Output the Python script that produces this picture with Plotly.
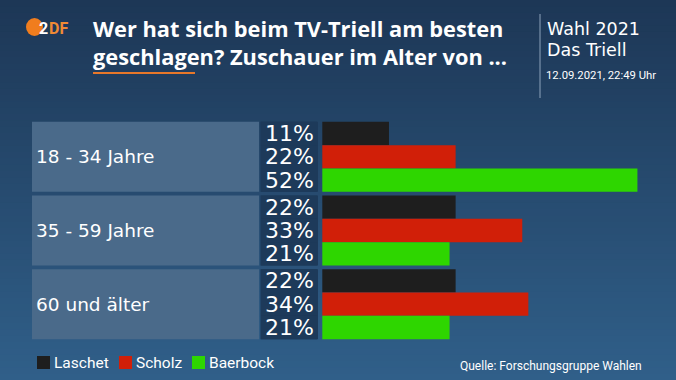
import plotly.graph_objects as go

# ---------------- data ----------------
groups = ["18 - 34 Jahre", "35 - 59 Jahre", "60 und älter"]
series_names = ["Laschet", "Scholz", "Baerbock"]
laschet = [11, 22, 22]
scholz = [22, 33, 34]
baerbock = [52, 21, 21]
series_values = [laschet, scholz, baerbock]
series_colors = ["#1e1e1e", "#d11f08", "#2ed600"]

title_lines = ["Wer hat sich beim TV-Triell am besten",
               "geschlagen? Zuschauer im Alter von ..."]
side_lines = ["Wahl 2021", "Das Triell"]
date_text = "12.09.2021, 22:49 Uhr"
source_text = "Quelle: Forschungsgruppe Wahlen"

# ---------------- geometry (pixels) ----------------
W, H = 676, 380
PX_PER_PCT = 6.06
ZERO_PX = 322.3
x_min = -ZERO_PX / PX_PER_PCT
x_max = (W - ZERO_PX) / PX_PER_PCT
PLOT_TOP, PLOT_BOTTOM = 120, 341


def px2x(p):
    return (p - ZERO_PX) / PX_PER_PCT


def px(p):
    return p / W


def py(p):
    return 1 - p / H


BOX_DARK = "#1d3a5a"
BOX_GRAY = "#4a6a8a"

fig = go.Figure()

for name, vals, col in zip(series_names, series_values, series_colors):
    # percent label cell (dark box with the value text), same slot as the bar
    fig.add_trace(go.Bar(
        y=groups, x=[px2x(317) - px2x(260.7)] * len(vals), base=px2x(260.7),
        orientation="h", offsetgroup=name,
        marker=dict(color=BOX_DARK, line=dict(width=0)),
        text=[f"{v}%" for v in vals], textposition="inside",
        insidetextanchor="end", constraintext="none",
        textfont=dict(family="DejaVu Sans", size=22, color="white"),
        showlegend=False, hoverinfo="skip",
    ))
    fig.add_trace(go.Bar(
        y=groups, x=vals, orientation="h", offsetgroup=name, name=name,
        marker=dict(color=col, line=dict(width=0)),
        showlegend=False,
    ))

shapes = []
# background gradient
top_rgb = (0x1d, 0x37, 0x56)
bot_rgb = (0x30, 0x5f, 0x89)
N = 60
for i in range(N):
    t = i / (N - 1)
    c = tuple(round(a + (b - a) * t) for a, b in zip(top_rgb, bot_rgb))
    shapes.append(dict(type="rect", xref="paper", yref="paper",
                       x0=0, x1=1, y0=1 - i / N, y1=1 - (i + 1) / N - 0.002,
                       fillcolor="rgb(%d,%d,%d)" % c, line=dict(width=0),
                       layer="below"))
# percent column background (between label box and bars)
for i, g in enumerate(groups):
    shapes.append(dict(type="rect", xref="x", yref="y",
                       x0=px2x(260.7), x1=px2x(318), y0=i - 0.475,
                       y1=i + 0.475, fillcolor=BOX_DARK, line=dict(width=0),
                       layer="below"))
# group label boxes
for i, g in enumerate(groups):
    shapes.append(dict(type="rect", xref="x", yref="y",
                       x0=px2x(32), x1=px2x(259), y0=i - 0.475, y1=i + 0.475,
                       fillcolor=BOX_GRAY, line=dict(width=0), layer="below"))

annotations = []
for g in groups:
    annotations.append(dict(xref="paper", yref="y", x=px(34), y=g,
                            text=g, showarrow=False, xanchor="left",
                            font=dict(family="DejaVu Sans", size=18.5,
                                      color="white")))

# header
for line, yy in zip(title_lines, [28, 56]):
    annotations.append(dict(xref="paper", yref="paper", x=px(91), y=py(yy),
                            text="<b>%s</b>" % line, showarrow=False,
                            xanchor="left", yanchor="middle",
                            font=dict(family="Open Sans", size=21.8,
                                      color="white")))
shapes.append(dict(type="line", xref="paper", yref="paper",
                   x0=px(93), x1=px(195), y0=py(73), y1=py(73),
                   line=dict(color="#e8782a", width=2)))
shapes.append(dict(type="line", xref="paper", yref="paper",
                   x0=px(540), x1=px(540), y0=py(14), y1=py(98),
                   line=dict(color="#8da3bb", width=1)))
for line, yy in zip(side_lines, [29, 50]):
    annotations.append(dict(xref="paper", yref="paper", x=px(545), y=py(yy),
                            text=line, showarrow=False, xanchor="left",
                            yanchor="middle",
                            font=dict(family="DejaVu Sans", size=17.5,
                                      color="white")))
annotations.append(dict(xref="paper", yref="paper", x=px(544), y=py(75.5),
                        text=date_text, showarrow=False, xanchor="left",
                        yanchor="middle",
                        font=dict(family="Roboto", size=11.3, color="white")))

# ZDF logo
shapes.append(dict(type="circle", xref="paper", yref="paper",
                   x0=px(26), x1=px(43), y0=py(36), y1=py(18),
                   fillcolor="#f07d1e", line=dict(width=0)))
annotations.append(dict(xref="paper", yref="paper", x=px(37), y=py(28),
                        text="<b>2</b>", showarrow=False, xanchor="left",
                        yanchor="middle",
                        font=dict(family="Roboto", size=16, color="white")))
annotations.append(dict(xref="paper", yref="paper", x=px(47), y=py(28),
                        text="<b>DF</b>", showarrow=False, xanchor="left",
                        yanchor="middle",
                        font=dict(family="Roboto", size=16, color="#f08a35")))

# legend (manual)
legend_x = [37, 119, 192]
for name, col, lx in zip(series_names, series_colors, legend_x):
    shapes.append(dict(type="rect", xref="paper", yref="paper",
                       x0=px(lx), x1=px(lx + 13), y0=py(369), y1=py(356),
                       fillcolor=col, line=dict(width=0)))
    annotations.append(dict(xref="paper", yref="paper", x=px(lx + 15),
                            y=py(362.5), text=name, showarrow=False,
                            xanchor="left", yanchor="middle",
                            font=dict(family="Roboto", size=15.5,
                                      color="white")))
annotations.append(dict(xref="paper", yref="paper", x=px(644), y=py(366),
                        text=source_text, showarrow=False, xanchor="right",
                        yanchor="middle",
                        font=dict(family="Roboto", size=12, color="white")))

fig.update_layout(
    width=W, height=H,
    margin=dict(l=0, r=0, t=0, b=0, pad=0),
    barmode="group", bargap=0.05, bargroupgap=0,
    paper_bgcolor="#264a6e", plot_bgcolor="rgba(0,0,0,0)",
    xaxis=dict(range=[x_min, x_max], visible=False, fixedrange=True,
               domain=[0, 1]),
    yaxis=dict(categoryorder="array", categoryarray=groups,
               range=[2.5, -0.5], visible=False, fixedrange=True,
               domain=[1 - PLOT_BOTTOM / H, 1 - PLOT_TOP / H]),
    shapes=shapes, annotations=annotations, showlegend=False,
    font=dict(family="Roboto", color="white"),
)

fig.write_html(
    "out.html",
    config={"displayModeBar": False},
    post_script="document.body.style.margin='0';"
                "document.body.style.overflow='hidden';",
)
